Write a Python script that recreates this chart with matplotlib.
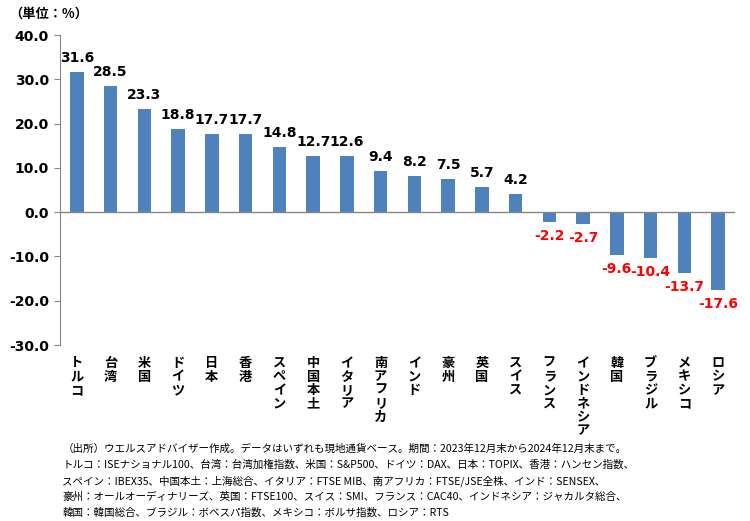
import numpy as np
import matplotlib.pyplot as plt

plt.rcParams['font.family'] = ['DejaVu Sans', 'Noto Sans CJK JP']

countries = ['トルコ', '台湾', '米国', 'ドイツ', '日本', '香港', 'スペイン', '中国本土', 'イタリア',
             '南アフリカ', 'インド', '豪州', '英国', 'スイス', 'フランス', 'インドネシア', '韓国',
             'ブラジル', 'メキシコ', 'ロシア']
returns = [31.6, 28.5, 23.3, 18.8, 17.7, 17.7, 14.8, 12.7, 12.6, 9.4, 8.2, 7.5, 5.7, 4.2,
           -2.2, -2.7, -9.6, -10.4, -13.7, -17.6]
yticks = [40, 30, 20, 10, 0, -10, -20, -30]

notes = [
    '（出所）ウエルスアドバイザー作成。データはいずれも現地通貨ベース。期間：2023年12月末から2024年12月末まで。',
    'トルコ：ISEナショナル100、台湾：台湾加権指数、米国：S&P500、ドイツ：DAX、日本：TOPIX、香港：ハンセン指数、',
    'スペイン：IBEX35、中国本土：上海総合、イタリア：FTSE MIB、南アフリカ：FTSE/JSE全株、インド：SENSEX、',
    '豪州：オールオーディナリーズ、英国：FTSE100、スイス：SMI、フランス：CAC40、インドネシア：ジャカルタ総合、',
    '韓国：韓国総合、ブラジル：ボベスパ指数、メキシコ：ボルサ指数、ロシア：RTS',
]

bar_color = '#4F81BD'
grey = '#868686'

fig = plt.figure(figsize=(7.5, 5.21), dpi=100)
ax = fig.add_axes([0.08, 0.3378, 0.9, 0.595])

x = np.arange(len(countries))
ax.bar(x, returns, width=0.4, color=bar_color)
ax.set_xlim(-0.5, len(countries) - 0.5)
ax.set_ylim(-30, 40)
ax.set_yticks(yticks)
ax.set_yticklabels(['%.1f' % v for v in yticks], fontsize=10, fontweight='bold')
ax.tick_params(axis='y', direction='out', length=4, color=grey, pad=4)
ax.set_xticks([])

for s in ['top', 'right', 'bottom']:
    ax.spines[s].set_visible(False)
ax.spines['left'].set_color(grey)
ax.axhline(0, color=grey, lw=1)

# データラベル
for xi, v in zip(x, returns):
    if v >= 0:
        ax.annotate('%.1f' % v, (xi, v), xytext=(0, 5), textcoords='offset points',
                    ha='center', va='bottom', fontsize=10, fontweight='bold')
    else:
        ax.annotate('%.1f' % v, (xi, v), xytext=(0, -5), textcoords='offset points',
                    ha='center', va='top', fontsize=10, fontweight='bold', color='red')

# 縦書きの国名
for xi, name in zip(x, countries):
    ax.annotate('\n'.join(name), (xi, -30), xytext=(0, -8), textcoords='offset points',
                ha='center', va='top', fontsize=9.5, fontweight='bold', linespacing=0.95,
                family=['Noto Sans CJK JP'], annotation_clip=False)

fig.text(0.013, 0.973, '（単位：%）', fontsize=9.5, fontweight='bold',
         family=['Noto Sans CJK JP'], va='center')

for i, line in enumerate(notes):
    fig.text(0.083, (521 - 449 - 16 * i) / 521, line, fontsize=7.6,
             family=['Noto Sans CJK JP'], va='center')

plt.savefig('out.png', dpi=100)
